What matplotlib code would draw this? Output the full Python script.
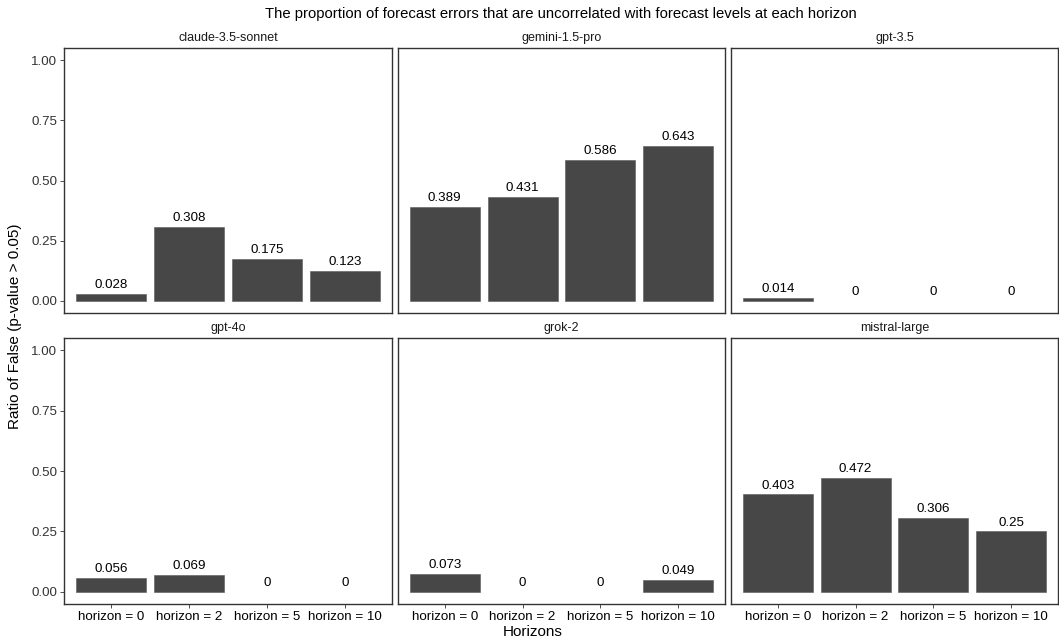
import matplotlib.pyplot as plt

models = ['claude-3.5-sonnet', 'gemini-1.5-pro', 'gpt-3.5',
          'gpt-4o', 'grok-2', 'mistral-large']
horizons = ['horizon = 0', 'horizon = 2', 'horizon = 5', 'horizon = 10']
ratios = {
    'claude-3.5-sonnet': [0.028, 0.308, 0.175, 0.123],
    'gemini-1.5-pro': [0.389, 0.431, 0.586, 0.643],
    'gpt-3.5': [0.014, 0, 0, 0],
    'gpt-4o': [0.056, 0.069, 0, 0],
    'grok-2': [0.073, 0, 0, 0.049],
    'mistral-large': [0.403, 0.472, 0.306, 0.25],
}
yticks = [0.0, 0.25, 0.5, 0.75, 1.0]
ytick_labels = ['0.00', '0.25', '0.50', '0.75', '1.00']

plt.rcParams['font.family'] = ['Liberation Sans', 'DejaVu Sans']
fig = plt.figure(figsize=(10.59, 6.43), dpi=100)

W, H = 1059, 643
lefts = [64, 398, 731]
rights = [392, 725, 1058]
rows = [(48, 313), (338, 604)]

for i, m in enumerate(models):
    r, c = divmod(i, 3)
    top, bot = rows[r]
    ax = fig.add_axes([lefts[c] / W, 1 - bot / H,
                       (rights[c] - lefts[c]) / W, (bot - top) / H])
    x = list(range(1, 5))
    vals = ratios[m]
    bars = ax.bar(x, vals, width=0.9, color='#474747', edgecolor='#5a5a5a', linewidth=0.4)
    for b, v in zip(bars, vals):
        if v == 0:
            b.set_linewidth(0)
    for xi, v in zip(x, vals):
        ax.text(xi, v + 0.012, f'{v:g}', ha='center', va='bottom', fontsize=9.6,
                color='black')
    ax.set_xlim(0.4, 4.6)
    ax.set_ylim(-0.05, 1.05)
    ax.set_yticks(yticks)
    ax.set_xticks(x)
    ax.tick_params(length=3, width=0.6, color='#333333', pad=2)
    if c == 0:
        ax.set_yticklabels(ytick_labels, fontsize=9.6, color='#333333')
    else:
        ax.set_yticklabels([])
        ax.tick_params(axis='y', length=0)
    if r == 1:
        ax.set_xticklabels(horizons, fontsize=9.6, color='black')
    else:
        ax.set_xticklabels([])
        ax.tick_params(axis='x', length=0)
    for s in ax.spines.values():
        s.set_color('#333333')
        s.set_linewidth(1.0)
    ax.text(0.5, 1.015, m, transform=ax.transAxes, ha='center', va='bottom',
            fontsize=9, color='#1a1a1a')

fig.text(561 / W, 1 - 14 / H, 'The proportion of forecast errors that are uncorrelated with forecast levels at each horizon',
         ha='center', va='center', fontsize=10.7)
fig.text(533 / W, 1 - 632 / H, 'Horizons', ha='center', va='center', fontsize=11)
fig.text(0.014, 1 - 326 / H, 'Ratio of False (p-value > 0.05)', rotation=90,
         ha='center', va='center', fontsize=11)

fig.savefig('out.png', dpi=100)
